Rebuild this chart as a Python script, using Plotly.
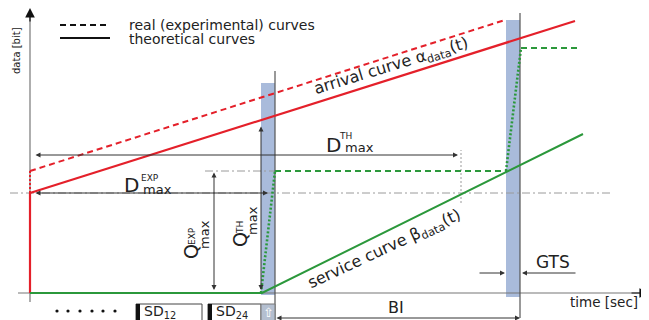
import plotly.graph_objects as go

# ---- data (arbitrary units: time along x, data along y) ----
arrival_theo_t = [0, 545]
arrival_theo_d = [100, 272]
arrival_exp_t = [0, 475]
arrival_exp_d = [122, 273]
burst_t = [0, 0]
burst_theo_d = [0, 100]
burst_exp_d = [100, 122]

service_theo_t = [0, 232, 553]
service_theo_d = [0, 0, 159]
service_rise1_t = [231, 245]
service_rise1_d = [0, 122]
service_flat1_t = [245, 476]
service_flat1_d = [122, 122]
service_rise2_t = [476, 491]
service_rise2_d = [122, 245]
service_flat2_t = [491, 550]
service_flat2_d = [245, 245]

gts_slots = [(231, 245, -2, 210), (476, 490, -4, 273)]
slot_edges = [(245, -27, 222), (490, -25, 280)]

level_exp = 100
level_q = 122
d_th_end = 428
d_exp_end = 238

RED = "#e4202a"
GREEN = "#2b983b"
BAND = "#a9bbdb"
GREY = "#9a9a9a"
DARK = "#333333"
FONT = "DejaVu Sans"

fig = go.Figure()


def line(x, y, color, width, dash="solid"):
    fig.add_trace(go.Scatter(x=x, y=y, mode="lines",
                             line=dict(color=color, width=width, dash=dash),
                             hoverinfo="skip", showlegend=False))


def arrow(x0, y0, x1, y1, both=False, size=1.0, width=1.0, color=DARK):
    fig.add_annotation(x=x1, y=y1, ax=x0, ay=y0, xref="x", yref="y",
                       axref="x", ayref="y", text="", showarrow=True,
                       arrowhead=2, arrowsize=size, arrowwidth=width,
                       arrowcolor=color, standoff=0, startstandoff=0,
                       startarrowhead=2, startarrowsize=size,
                       arrowside="end+start" if both else "end")


def label(x, y, text, size, angle=0, color="#222", xanchor="center"):
    fig.add_annotation(x=x, y=y, xref="x", yref="y", text=text,
                       showarrow=False, textangle=angle, xanchor=xanchor,
                       yanchor="middle",
                       font=dict(family=FONT, size=size, color=color))


# GTS bands
for x0, x1, y0, y1 in gts_slots:
    fig.add_shape(type="rect", x0=x0, x1=x1, y0=y0, y1=y1, xref="x", yref="y",
                  fillcolor=BAND, line=dict(width=0), layer="below")

# reference dash-dot lines
line([-20, 583], [level_exp, level_exp], GREY, 1, "8px,3px,2px,3px")
line([175, 245], [level_q, level_q], GREY, 1, "8px,3px,2px,3px")
line([431, 431], [90, 143], GREY, 1, "2px,2px")

# axes
line([0, 0], [-9, 280], "#777", 1.2)
line([-12, 612], [0, 0], "#777", 1.2)
arrow(0, 270, 0, 285, size=1.6, width=1.2, color="#111")
arrow(600, 0, 619, 0, size=1.6, width=1.2, color="#111")

# slot edges
for x, y0, y1 in slot_edges:
    line([x, x], [y0, y1], "#555", 1.2)

# curves
line(arrival_exp_t, arrival_exp_d, RED, 2, "6px,4px")
line(arrival_theo_t, arrival_theo_d, RED, 2.2)
line(burst_t, burst_theo_d, RED, 2.2)
line(burst_t, burst_exp_d, RED, 2, "2px,2px")
line(service_theo_t, service_theo_d, GREEN, 2)
line(service_rise1_t, service_rise1_d, GREEN, 2.6, "2px,2px")
line(service_flat1_t, service_flat1_d, GREEN, 2, "6px,4px")
line(service_rise2_t, service_rise2_d, GREEN, 2.6, "2px,2px")
line(service_flat2_t, service_flat2_d, GREEN, 2, "6px,4px")

# legend
line([30, 80], [268, 268], "#111", 2, "6px,4px")
line([30, 80], [255, 255], "#111", 2)
label(97, 268.5, "real (experimental) curves", 14, xanchor="left")
label(97, 254.5, "theoretical curves", 14, xanchor="left")

# measurement arrows
arrow(4, 138, d_th_end, 138, both=True)
arrow(4, level_exp, d_exp_end, level_exp, both=True)
arrow(184, level_q, 184, 3, both=True)
arrow(231, 168, 231, 3, both=True)
arrow(448, 20, 475, 20)
arrow(547, 20, 492, 20)
arrow(245, -25, 490, -25, both=True)

# labels
label(361, 227, "arrival curve α<sub>data</sub>(t)", 16, angle=-17)
label(354, 44, "service curve β<sub>data</sub>(t)", 16, angle=-25)

label(101, 108, "D", 20)
label(120, 115, "EXP", 9)
label(127, 104, "max", 13)
label(303, 148, "D", 20)
label(315, 157, "TH", 9)
label(329, 146, "max", 13)

label(161, 41, "Q", 19, angle=-90)
label(162, 57, "EXP", 9, angle=-90)
label(174, 58, "max", 13, angle=-90)
label(210, 53, "Q", 19, angle=-90)
label(210, 65, "TH", 9, angle=-90)
label(222, 72, "max", 13, angle=-90)

label(523, 31, "GTS", 17)
label(366, -14, "BI", 16)
label(574, -9, "time [sec]", 13.5)
label(-14, 242, "data [bit]", 10, angle=-90)

# superframe strip at the bottom
for dx in [27, 38, 50, 62, 73, 85]:
    fig.add_shape(type="circle", x0=dx - 1.6, x1=dx + 1.6, y0=-19.6, y1=-16.4,
                  xref="x", yref="y", fillcolor="#111", line=dict(width=0))
for x0, x1, txt in [(106, 172, "SD<sub>12</sub>"), (178, 231, "SD<sub>24</sub>")]:
    fig.add_shape(type="rect", x0=x0, x1=x1, y0=-29, y1=-11, xref="x", yref="y",
                  fillcolor="white", line=dict(color="#444", width=1))
    fig.add_shape(type="rect", x0=x0, x1=x0 + 4, y0=-29, y1=-11, xref="x",
                  yref="y", fillcolor="#111", line=dict(width=0))
    label(x0 + 6, -19, txt, 14, xanchor="left")
fig.add_shape(type="rect", x0=231, x1=245, y0=-29, y1=-11, xref="x", yref="y",
              fillcolor="#b4bfd0", line=dict(color="#777", width=1))
label(238, -19, "⇧", 13, color="white")

# the page body has an 8px margin: size the figure so it fits the window
fig.update_layout(width=641, height=312, margin=dict(l=0, r=0, t=0, b=0),
                  paper_bgcolor="white", plot_bgcolor="white",
                  xaxis=dict(range=[-22, 619], visible=False, fixedrange=True),
                  yaxis=dict(range=[-27, 285], visible=False, fixedrange=True),
                  showlegend=False)

fig.write_html("out.html")
